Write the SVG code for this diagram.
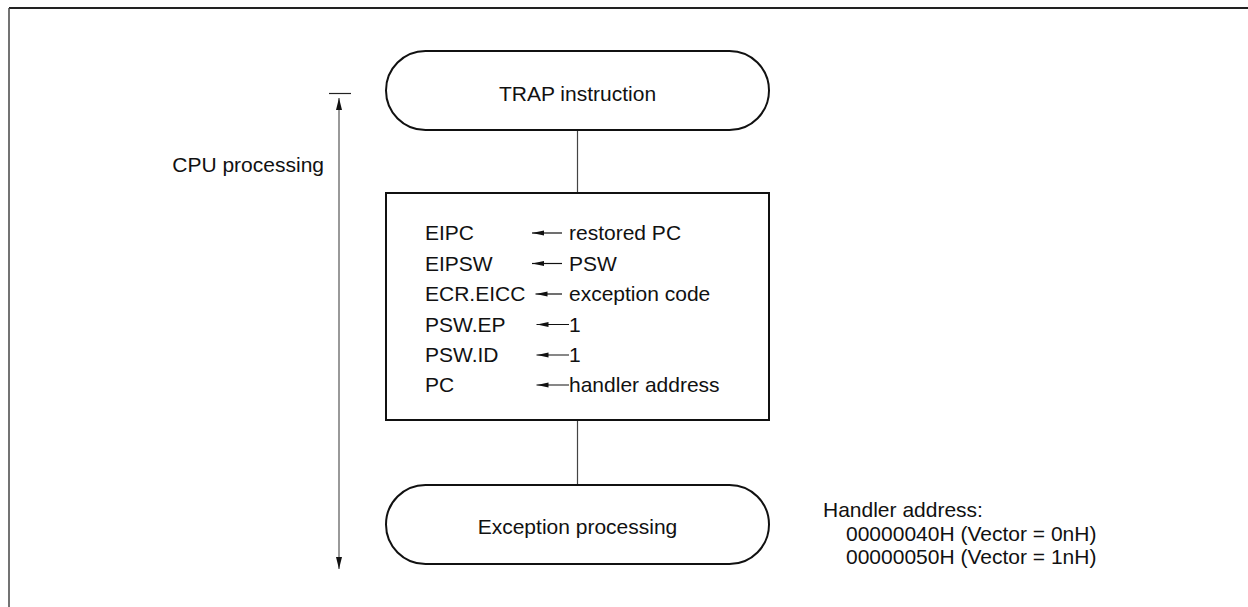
<svg xmlns="http://www.w3.org/2000/svg" width="1248" height="607" viewBox="0 0 1248 607">
<defs>
<style>
text{font-family:"Liberation Sans",Arial,sans-serif;font-size:21px;fill:#111}
.shape{fill:#fff;stroke:#111;stroke-width:2}
.conn{stroke:#444;stroke-width:1.2;fill:none}
.arr{stroke:#111;stroke-width:1.2;fill:none}
.dim{stroke:#777;stroke-width:1.5;fill:none}
.mid{text-anchor:middle}
</style>
<marker id="ah" viewBox="0 0 12 6" refX="0" refY="3" markerWidth="12" markerHeight="6" markerUnits="userSpaceOnUse" orient="auto">
<path d="M12,0.5 L0,3 L12,5.5 Z" fill="#111"/>
</marker>
</defs>
<g id="frame">
<line x1="9" y1="8" x2="1248" y2="8" stroke="#222" stroke-width="2"/>
<line x1="9" y1="8" x2="9" y2="607" stroke="#444" stroke-width="1.5"/>
</g>
<g id="connectors">
<line class="conn" x1="577.5" y1="130" x2="577.5" y2="193"/>
<line class="conn" x1="577.5" y1="420" x2="577.5" y2="485"/>
</g>
<g id="cpu-processing">
<line x1="329" y1="93.5" x2="351" y2="93.5" stroke="#222" stroke-width="1.2"/>
<line class="dim" x1="339" y1="98" x2="339" y2="569"/>
<path d="M336,110 L339,98 L342,110 Z" fill="#111"/>
<path d="M336,557 L339,569 L342,557 Z" fill="#111"/>
<text x="324" y="172" text-anchor="end">CPU processing</text>
</g>
<g id="trap">
<rect class="shape" x="386" y="51" width="383" height="79" rx="39.5" ry="39.5"/>
<text class="mid" x="577.5" y="101">TRAP instruction</text>
</g>
<g id="process">
<rect class="shape" x="386" y="193" width="383" height="227"/>
<text x="425" y="240">EIPC</text>
<text x="425" y="270.5">EIPSW</text>
<text x="425" y="301">ECR.EICC</text>
<text x="425" y="331.5">PSW.EP</text>
<text x="425" y="362">PSW.ID</text>
<text x="425" y="392">PC</text>
<text x="569" y="240">restored PC</text>
<text x="569" y="270.5">PSW</text>
<text x="569" y="301">exception code</text>
<text x="569" y="331.5">1</text>
<text x="569" y="362">1</text>
<text x="569" y="392">handler address</text>
<g class="arrows">
<line class="arr" x1="532" y1="233" x2="562" y2="233" marker-start="url(#ah)"/>
<line class="arr" x1="532" y1="263.5" x2="562" y2="263.5" marker-start="url(#ah)"/>
<line class="arr" x1="535.5" y1="294" x2="562" y2="294" marker-start="url(#ah)"/>
<line class="arr" x1="536.5" y1="324.5" x2="569" y2="324.5" marker-start="url(#ah)"/>
<line class="arr" x1="536.5" y1="355" x2="569" y2="355" marker-start="url(#ah)"/>
<line class="arr" x1="536.5" y1="385" x2="569" y2="385" marker-start="url(#ah)"/>
</g>
</g>
<g id="exception">
<rect class="shape" x="386" y="485" width="383" height="79" rx="39.5" ry="39.5"/>
<text class="mid" x="577.5" y="534">Exception processing</text>
</g>
<g id="handler-note">
<text x="823" y="517">Handler address:</text>
<text x="846" y="541">00000040H (Vector = 0nH)</text>
<text x="846" y="564">00000050H (Vector = 1nH)</text>
</g>
</svg>
